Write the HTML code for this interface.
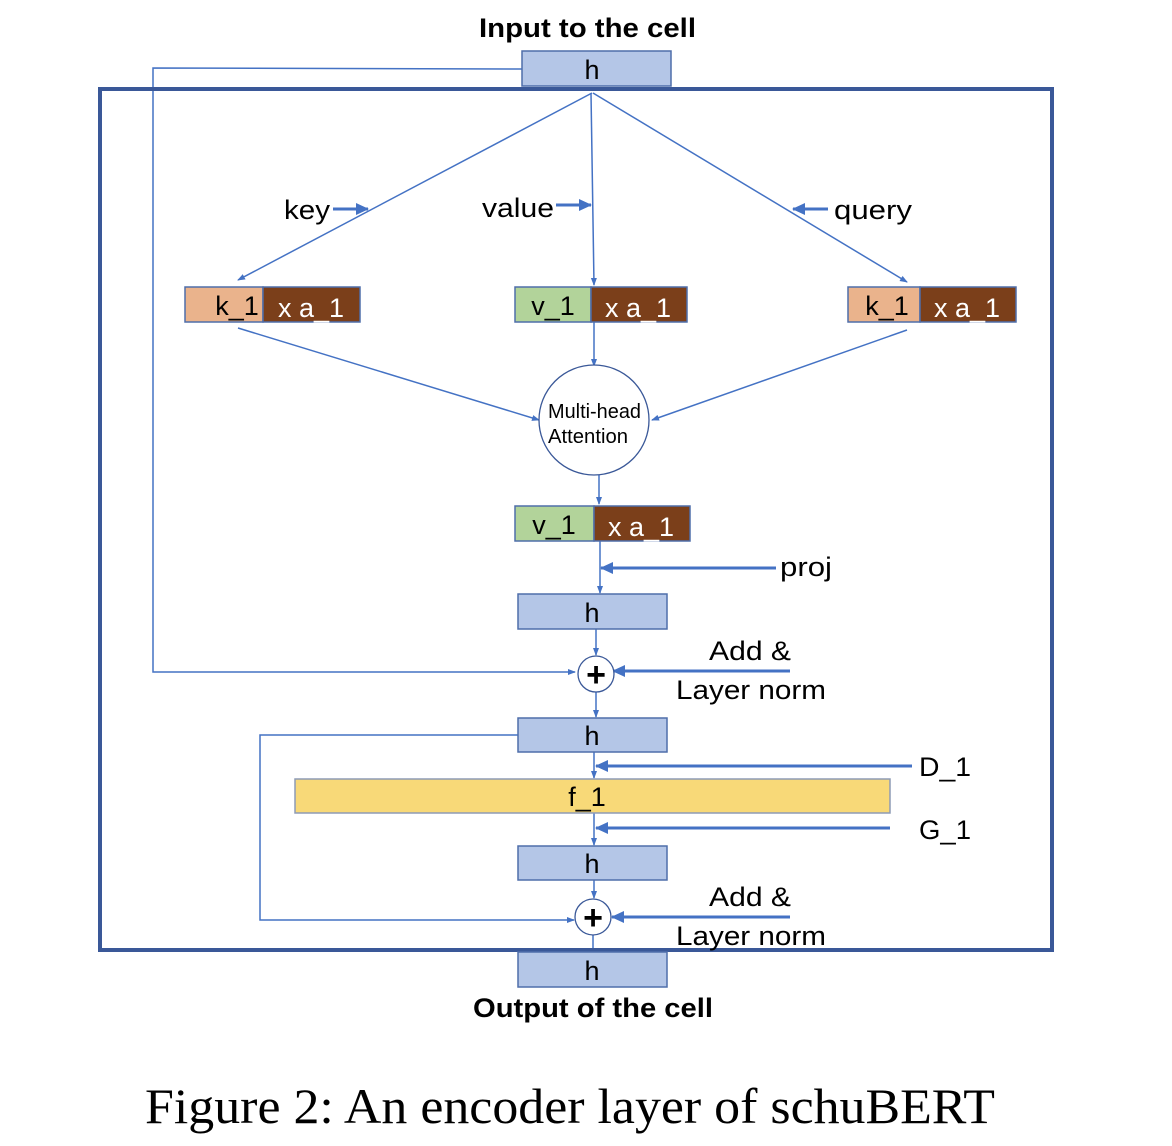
<!DOCTYPE html>
<html><head><meta charset="utf-8"><style>
html,body{margin:0;padding:0;background:#fff;width:1172px;height:1146px;overflow:hidden}
svg{display:block}
text{font-family:"Liberation Sans",sans-serif;}
</style></head><body>
<svg width="1172" height="1146" viewBox="0 0 1172 1146" xmlns="http://www.w3.org/2000/svg">
<defs>
<marker id="a" markerWidth="8" markerHeight="8" refX="7" refY="4" orient="auto" markerUnits="userSpaceOnUse"><path d="M0,1 L8,4 L0,7 Z" fill="#4472C4"/></marker>
<marker id="b" markerWidth="14" markerHeight="14" refX="12" refY="7" orient="auto" markerUnits="userSpaceOnUse"><path d="M0,1 L13,7 L0,13 Z" fill="#4472C4"/></marker>
</defs>
<g fill="none" stroke="#4472C4" stroke-width="1.5">
<polyline points="522,69 153,68 153,672 575,672" marker-end="url(#a)"/>
<line x1="592" y1="93" x2="238" y2="280" marker-end="url(#a)"/>
<line x1="591" y1="93" x2="594" y2="285" marker-end="url(#a)"/>
<line x1="593" y1="93" x2="907" y2="282" marker-end="url(#a)"/>
<line x1="238" y1="328" x2="539" y2="420" marker-end="url(#a)"/>
<line x1="907" y1="330" x2="652" y2="420" marker-end="url(#a)"/>
<line x1="594" y1="322" x2="594" y2="366" marker-end="url(#a)"/>
<line x1="599" y1="474" x2="599" y2="504" marker-end="url(#a)"/>
<line x1="600" y1="541" x2="600" y2="593" marker-end="url(#a)"/>
<line x1="596" y1="629" x2="596" y2="655" marker-end="url(#a)"/>
<line x1="596" y1="691" x2="596" y2="717" marker-end="url(#a)"/>
<line x1="594" y1="752" x2="594" y2="778" marker-end="url(#a)"/>
<line x1="594" y1="813" x2="594" y2="845" marker-end="url(#a)"/>
<line x1="594" y1="880" x2="594" y2="898" marker-end="url(#a)"/>
<line x1="593" y1="935" x2="593" y2="951"/>
<polyline points="518,735 260,735 260,920 574,920" marker-end="url(#a)"/>
</g>
<g stroke="#4472C4" stroke-width="3" fill="none">
<line x1="333" y1="209" x2="368" y2="209" marker-end="url(#b)"/>
<line x1="556" y1="205" x2="591" y2="205" marker-end="url(#b)"/>
<line x1="828" y1="209" x2="793" y2="209" marker-end="url(#b)"/>
<line x1="776" y1="568" x2="601" y2="568" marker-end="url(#b)"/>
<line x1="790" y1="671" x2="613" y2="671" marker-end="url(#b)"/>
<line x1="912" y1="766" x2="596" y2="766" marker-end="url(#b)"/>
<line x1="890" y1="828" x2="596" y2="828" marker-end="url(#b)"/>
<line x1="790" y1="917" x2="612" y2="917" marker-end="url(#b)"/>
</g>
<rect x="100" y="89" width="952" height="861" fill="none" stroke="#3A5898" stroke-width="4"/>
<g fill="#B4C6E7" stroke="#4F6EAA" stroke-width="1.5">
<rect x="522" y="51" width="149" height="35"/>
<rect x="518" y="594" width="149" height="35"/>
<rect x="518" y="718" width="149" height="34"/>
<rect x="518" y="846" width="149" height="34"/>
<rect x="518" y="952" width="149" height="35"/>
</g>
<rect x="295" y="779" width="595" height="34" fill="#F8D978" stroke="#8E9BB5" stroke-width="1.5"/>
<g stroke="#4F6EAA" stroke-width="1.5">
<rect x="185" y="287" width="78" height="35" fill="#EAB38C"/><rect x="263" y="287" width="97" height="35" fill="#7B3F1A"/>
<rect x="515" y="287" width="76" height="35" fill="#B2D39A"/><rect x="591" y="287" width="96" height="35" fill="#7B3F1A"/>
<rect x="848" y="287" width="72" height="35" fill="#EAB38C"/><rect x="920" y="287" width="96" height="35" fill="#7B3F1A"/>
<rect x="515" y="506" width="79" height="35" fill="#B2D39A"/><rect x="594" y="506" width="96" height="35" fill="#7B3F1A"/>
</g>
<circle cx="594" cy="420" r="55" fill="#fff" stroke="#3A5898" stroke-width="1.3"/>
<circle cx="596" cy="674" r="18" fill="#fff" stroke="#3A5898" stroke-width="1.3"/>
<circle cx="593" cy="917" r="18" fill="#fff" stroke="#3A5898" stroke-width="1.3"/>
<g font-size="34" font-weight="bold" text-anchor="middle" fill="#000">
<text x="596" y="686">+</text><text x="593" y="929">+</text>
</g>
<g font-size="27" fill="#000">
<text x="479" y="37" font-weight="bold" textLength="217" lengthAdjust="spacingAndGlyphs">Input to the cell</text>
<text x="473" y="1017" font-weight="bold" textLength="240" lengthAdjust="spacingAndGlyphs">Output of the cell</text>
<g text-anchor="middle">
<text x="592" y="79">h</text><text x="592" y="622">h</text><text x="592" y="745">h</text><text x="592" y="873">h</text><text x="592" y="980">h</text>
<text x="587" y="806">f_1</text>
<text x="237" y="315">k_1</text><text x="553" y="315">v_1</text><text x="887" y="315">k_1</text><text x="554" y="534">v_1</text>
</g>
<g fill="#fff" text-anchor="middle">
<text x="311" y="317">x a_1</text><text x="638" y="317">x a_1</text><text x="967" y="317">x a_1</text><text x="641" y="536">x a_1</text>
</g>
<text x="284" y="219" textLength="46" lengthAdjust="spacingAndGlyphs">key</text>
<text x="482" y="217" textLength="72" lengthAdjust="spacingAndGlyphs">value</text>
<text x="834" y="219" textLength="78" lengthAdjust="spacingAndGlyphs">query</text>
<text x="780" y="576" textLength="52" lengthAdjust="spacingAndGlyphs">proj</text>
<text x="709" y="660" textLength="82" lengthAdjust="spacingAndGlyphs">Add &amp;</text>
<text x="676" y="699" textLength="150" lengthAdjust="spacingAndGlyphs">Layer norm</text>
<text x="709" y="906" textLength="82" lengthAdjust="spacingAndGlyphs">Add &amp;</text>
<text x="676" y="945" textLength="150" lengthAdjust="spacingAndGlyphs">Layer norm</text>
<text x="919" y="776" textLength="52" lengthAdjust="spacingAndGlyphs">D_1</text>
<text x="919" y="839" textLength="52" lengthAdjust="spacingAndGlyphs">G_1</text>
</g>
<g font-size="20" fill="#000"><text x="548" y="418" textLength="93" lengthAdjust="spacingAndGlyphs">Multi-head</text><text x="548" y="443" textLength="80" lengthAdjust="spacingAndGlyphs">Attention</text></g>
<text x="145" y="1123" font-size="50" textLength="850" lengthAdjust="spacingAndGlyphs" style="font-family:'Liberation Serif',serif">Figure 2: An encoder layer of schuBERT</text>
</svg>
</body></html>
